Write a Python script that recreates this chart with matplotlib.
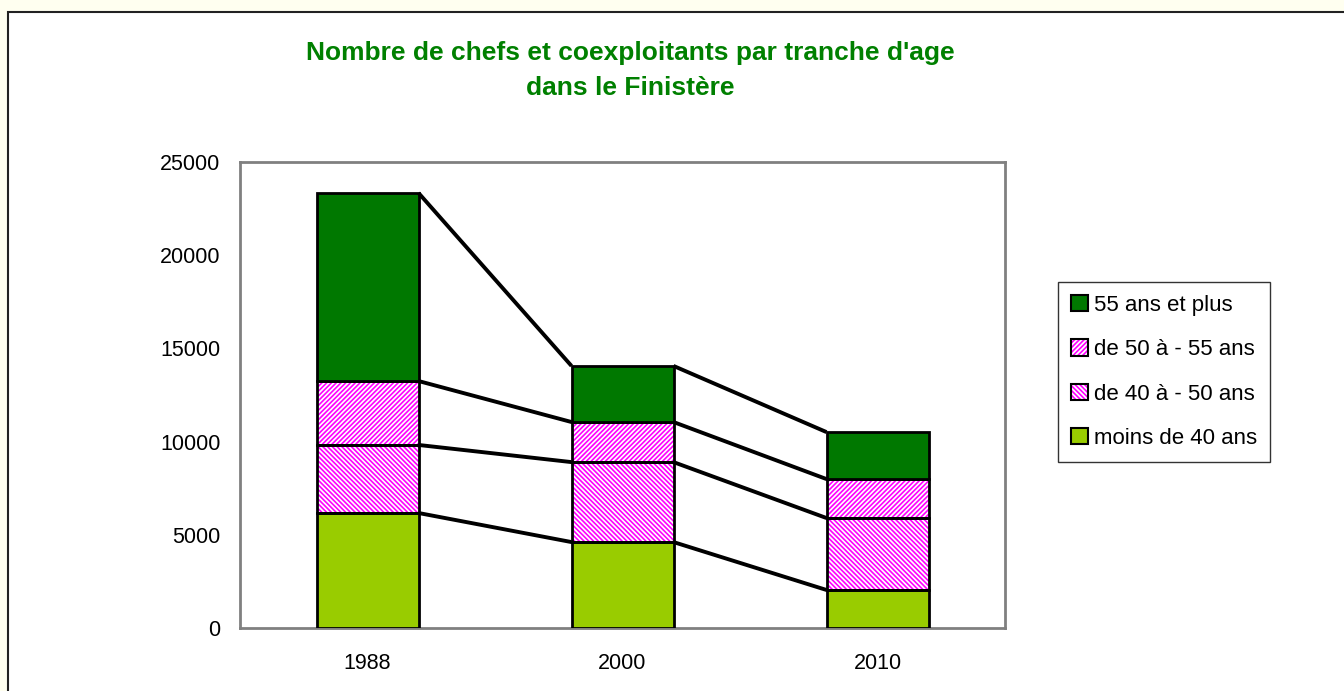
import matplotlib
matplotlib.use("Agg")
import matplotlib.pyplot as plt
import numpy as np
from matplotlib.patches import Rectangle, Patch
from matplotlib.legend_handler import HandlerTuple

years = ["1988", "2000", "2010"]
series_names = ["moins de 40 ans", "de 40 à - 50 ans", "de 50 à - 55 ans", "55 ans et plus"]
moins_40 = [6170, 4610, 2040]
de_40_50 = [3650, 4290, 3860]
de_50_55 = [3430, 2150, 2090]
plus_55 = [10090, 3010, 2520]
yticks = [0, 5000, 10000, 15000, 20000, 25000]

series = [moins_40, de_40_50, de_50_55, plus_55]
faces = ["#99CC00", "white", "white", "#007800"]
hatches = [None, "\\" * 7, "/" * 7, None]
HATCH = "#FF00FF"

plt.rcParams['font.family'] = ['Liberation Sans', 'DejaVu Sans']
plt.rcParams['hatch.linewidth'] = 1.2

fig = plt.figure(figsize=(13.44, 6.91), dpi=100)
fig.patch.set_facecolor("#FFFFF0")
# white chart area with dark border
bg = Rectangle((8/1344, -0.05), 1.1, (691-12)/691 + 0.05, transform=fig.transFigure,
               facecolor="white", edgecolor="#222222", linewidth=1.5, zorder=-10)
fig.patches.append(bg)

ax = fig.add_axes([240/1344, 1-628/691, (1005-240)/1344, (628-162)/691])
ax.set_facecolor("white")
x = np.arange(len(years))
w = 0.4
bottom = np.zeros(len(years))
handles = []
for vals, fc, h, name in zip(series, faces, hatches, series_names):
    vals = np.array(vals, dtype=float)
    if h:
        ax.bar(x, vals, w, bottom=bottom, color="white", edgecolor=HATCH, hatch=h, linewidth=0, zorder=2)
        ax.bar(x, vals, w, bottom=bottom, fill=False, edgecolor="black", linewidth=2, zorder=3)
        hp = Patch(facecolor="white", edgecolor=HATCH, hatch=h, linewidth=0)
        op = Patch(fill=False, edgecolor="black", linewidth=1.5)
        handles.append((hp, op))
    else:
        ax.bar(x, vals, w, bottom=bottom, color=fc, edgecolor="black", linewidth=2, zorder=3)
        handles.append(Patch(facecolor=fc, edgecolor="black", linewidth=1.5))
    bottom = bottom + vals
    # connecting lines between bars
    for i in range(len(years) - 1):
        ax.plot([x[i] + w/2, x[i+1] - w/2], [bottom[i], bottom[i+1]], color="black", lw=2.8,
                zorder=4, solid_capstyle="butt")

ax.set_xlim(-0.5, 2.5)
ax.set_ylim(0, 25000)
ax.set_yticks(yticks)
ax.set_yticklabels([str(t) for t in yticks])
ax.set_xticks(x)
ax.set_xticklabels(years)
ax.tick_params(axis='y', length=0, pad=14, labelsize=15.5)
ax.tick_params(axis='x', length=0, pad=18, labelsize=15.5)
for s in ax.spines.values():
    s.set_color("#808080")
    s.set_linewidth(2)

fig.text(630/1344, 1-53/691, "Nombre de chefs et coexploitants par tranche d'age", ha="center", va="center",
         fontsize=19, fontweight="bold", color="#008000")
fig.text(630/1344, 1-88/691, "dans le Finistère", ha="center", va="center",
         fontsize=19, fontweight="bold", color="#008000")

leg = fig.legend(handles[::-1], series_names[::-1], loc="center left",
                 bbox_to_anchor=(1058/1344, 1-372/691), fontsize=16, frameon=True,
                 fancybox=False, edgecolor="black", handlelength=0.75, handleheight=0.75,
                 handletextpad=0.25, labelspacing=1.05, borderpad=0.6, borderaxespad=0,
                 handler_map={tuple: HandlerTuple(ndivide=1)})
leg.get_frame().set_linewidth(1.0)

fig.savefig("out.png", dpi=100, facecolor=fig.get_facecolor())
